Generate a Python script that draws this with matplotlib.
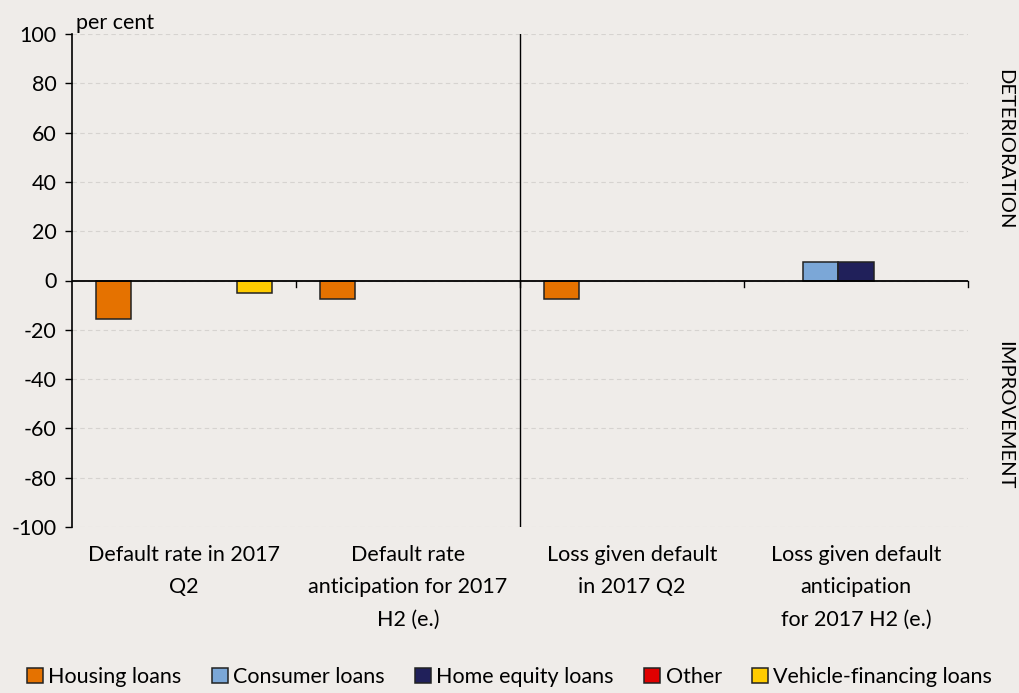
import numpy as np
import matplotlib.pyplot as plt

plt.rcParams['font.family'] = ['Lato', 'DejaVu Sans']
plt.rcParams['axes.unicode_minus'] = False

categories = ['Default rate in 2017\nQ2', 'Default rate\nanticipation for 2017\nH2 (e.)',
              'Loss given default\nin 2017 Q2', 'Loss given default\nanticipation\nfor 2017 H2 (e.)']
series = ['Housing loans', 'Consumer loans', 'Home equity loans', 'Other', 'Vehicle-financing loans']
housing = [-15.6, -7.7, -7.7, 0]
consumer = [0, 0, 0, 7.7]
home_equity = [0, 0, 0, 7.7]
other = [0, 0, 0, 0]
vehicle = [-5.0, 0, 0, 0]
colors = ['#E57200', '#7BA7D7', '#20205A', '#E00000', '#FFCC00']

bg = '#EFECE9'
fs = 15.5
fig = plt.figure(figsize=(10.19, 6.93), dpi=100, facecolor=bg)
ax = fig.add_axes([72/1019, 1-527/693, 896/1019, 493/693], facecolor=bg)

x = np.arange(len(categories))
w = 0.157
data = [housing, consumer, home_equity, other, vehicle]
for i, (vals, c, name) in enumerate(zip(data, colors, series)):
    v = np.array(vals, dtype=float)
    v[v == 0] = np.nan  # zero bars are not drawn
    ax.bar(x + (i-2)*w, v, w, color=c, edgecolor='#222222', linewidth=1.1, label=name, zorder=3)

ax.set_xlim(-0.5, 3.5)
ax.set_ylim(-100, 100)
ax.set_yticks(np.arange(-100, 101, 20))
ax.tick_params(axis='y', labelsize=fs, length=5, direction='out', colors='black', width=1, pad=6)
ax.yaxis.grid(True, linestyle=(0, (4, 3)), color='#D6D3D0', linewidth=0.8, zorder=0)
for s in ['top', 'right', 'bottom']:
    ax.spines[s].set_visible(False)
ax.spines['left'].set_linewidth(1.2)
ax.axhline(0, color='black', linewidth=1.3, zorder=4)
ax.axvline(1.5, color='black', linewidth=1.0, zorder=4)

# category boundary ticks on zero line
ax.set_xticks([])
for b in [0.5, 1.5, 2.5, 3.5]:
    ax.plot([b, b], [0, -2.8], color='black', linewidth=1, clip_on=False, zorder=4)

for xi, lab in zip(x, categories):
    ax.text(xi, -107.5, lab, ha='center', va='top', fontsize=fs, linespacing=1.75)

ax.text(0.005, 1.003, 'per cent', transform=ax.transAxes, fontsize=fs, va='bottom', ha='left')
fig.text(1005/1019, 1-149/693, 'DETERIORATION', rotation=-90, ha='center', va='center', fontsize=14.5)
fig.text(1005/1019, 1-415/693, 'IMPROVEMENT', rotation=-90, ha='center', va='center', fontsize=14.5)

fig.legend(loc='center', bbox_to_anchor=(0.5, 1-677/693), ncol=5, frameon=False, fontsize=fs,
           handlelength=0.75, handleheight=0.75, handletextpad=0.25, columnspacing=1.4)

fig.savefig('out.png', dpi=100, facecolor=bg)
